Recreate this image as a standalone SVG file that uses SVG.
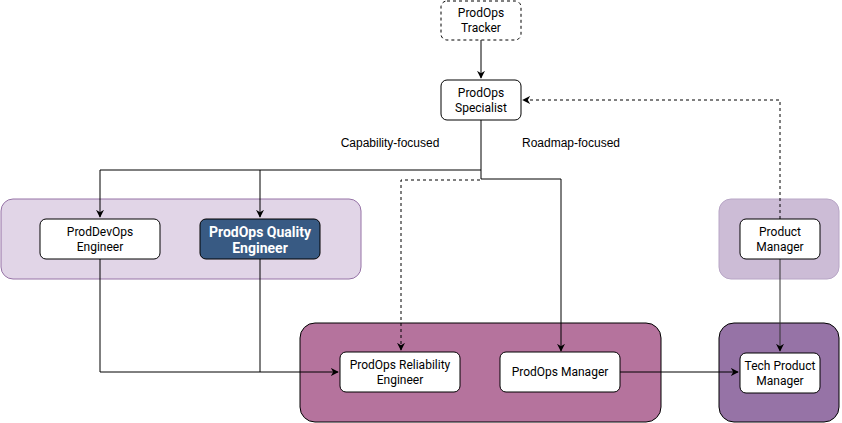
<svg xmlns="http://www.w3.org/2000/svg" width="842" height="423" viewBox="0 0 842 423">
<style>
.node{fill:#fff;stroke:#000;stroke-width:1}
.t{font-family:Roboto,"Liberation Sans",sans-serif;font-size:12px;fill:#000;text-anchor:middle}
.lbl{font-family:"Liberation Sans",Arial,sans-serif;font-size:12px;fill:#000;text-anchor:middle}
.e{fill:none;stroke:#000;stroke-width:1}
.d{stroke-dasharray:3 3}
</style>
<defs>
<marker id="ah" viewBox="0 0 10 10" refX="9" refY="5" markerWidth="8" markerHeight="8" orient="auto" markerUnits="userSpaceOnUse">
<path d="M0,0 L10,5 L0,10 L3,5 Z" fill="#000"/>
</marker>
</defs>
<rect width="842" height="423" fill="#fff"/>
<g id="containers">
<rect x="1" y="199" width="360" height="80" rx="12" fill="#e1d5e7" stroke="#9673a6"/>
<rect x="719" y="199" width="120" height="80" rx="12" fill="#ccbcd6" stroke="#b8a6c6"/>
<rect x="300" y="323" width="361" height="99" rx="15" fill="#b5739d" stroke="#000"/>
<rect x="719" y="323" width="120" height="99" rx="15" fill="#9673a6" stroke="#000"/>
</g>
<g id="connectors">
<path class="e" d="M481,40 V78" marker-end="url(#ah)"/>
<path class="e" d="M481,120 V170 H100 V217" marker-end="url(#ah)"/>
<path class="e" d="M260,170 V217" marker-end="url(#ah)"/>
<path class="e" d="M481,170 V179 H561 V351" marker-end="url(#ah)"/>
<path class="e d" d="M480,180 H401 V350" marker-end="url(#ah)"/>
<path class="e" d="M100,259 V372 H338" marker-end="url(#ah)"/>
<path class="e" d="M260,259 V372"/>
<path class="e" d="M620,372 H738" marker-end="url(#ah)"/>
<path class="e d" d="M780,219 V100 H523" marker-end="url(#ah)"/>
<path class="e" style="stroke:#333" d="M780,259 V351" marker-end="url(#ah)"/>
</g>
<g id="tracker">
<rect class="node" x="441" y="1" width="80" height="39" rx="6" stroke-dasharray="3 3"/>
<text class="t" x="481" y="17">ProdOps</text>
<text class="t" x="481" y="32">Tracker</text>
</g>
<g id="specialist">
<rect class="node" x="441" y="80" width="80" height="40" rx="6"/>
<text class="t" x="481" y="97">ProdOps</text>
<text class="t" x="481" y="112">Specialist</text>
</g>
<g id="labels">
<text class="lbl" x="390" y="147">Capability-focused</text>
<text class="lbl" x="571" y="147">Roadmap-focused</text>
</g>
<g id="prodevops">
<rect class="node" x="40" y="219" width="120" height="40" rx="6"/>
<text class="t" x="100" y="236">ProdDevOps</text>
<text class="t" x="100" y="251">Engineer</text>
</g>
<g id="quality">
<rect x="200" y="219" width="120" height="40" rx="6" fill="#385a83" stroke="#000"/>
<text class="t" x="260" y="237" style="fill:#fff;font-weight:bold;font-size:14px">ProdOps Quality</text>
<text class="t" x="260" y="253" style="fill:#fff;font-weight:bold;font-size:14px">Engineer</text>
</g>
<g id="reliability">
<rect class="node" x="340" y="352" width="120" height="40" rx="6"/>
<text class="t" x="400" y="369">ProdOps Reliability</text>
<text class="t" x="400" y="384">Engineer</text>
</g>
<g id="manager">
<rect class="node" x="500" y="352" width="120" height="40" rx="6"/>
<text class="t" x="560" y="376">ProdOps Manager</text>
</g>
<g id="productmanager">
<rect class="node" x="740" y="219" width="80" height="40" rx="6"/>
<text class="t" x="780" y="236">Product</text>
<text class="t" x="780" y="251">Manager</text>
</g>
<g id="techpm">
<rect class="node" x="740" y="353" width="80" height="40" rx="6"/>
<text class="t" x="780" y="370">Tech Product</text>
<text class="t" x="780" y="385">Manager</text>
</g>
</svg>
